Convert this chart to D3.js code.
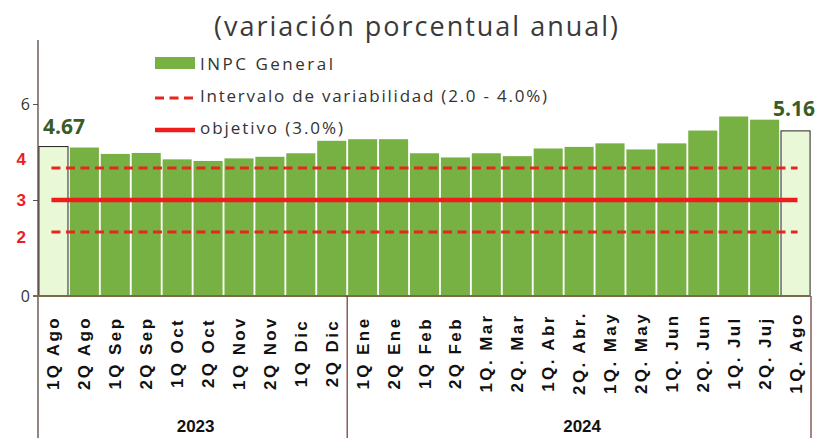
<!DOCTYPE html>
<html>
<head>
<meta charset="utf-8">
<script src="https://cdn.jsdelivr.net/npm/d3@7"></script>
<style>
  body { margin: 0; background: #fff; }
  svg { display: block; }
</style>
</head>
<body>
<div id="chart"></div>
<script>
// quincenas (categorias del eje x)
const categories = [
  '1Q Ago', '2Q Ago', '1Q Sep', '2Q Sep', '1Q Oct', '2Q Oct', '1Q Nov', '2Q Nov', '1Q Dic', '2Q Dic',
  '1Q Ene', '2Q Ene', '1Q Feb', '2Q Feb', '1Q. Mar', '2Q. Mar', '1Q. Abr', '2Q. Abr.', '1Q. May',
  '2Q. May', '1Q. Jun', '2Q. Jun', '1Q. Jul', '2Q. Juj', '1Q. Ago'
];
const years = ['2023', '2023', '2023', '2023', '2023', '2023', '2023', '2023', '2023', '2023',
  '2024', '2024', '2024', '2024', '2024', '2024', '2024', '2024', '2024', '2024', '2024', '2024',
  '2024', '2024', '2024'];
// INPC general, variacion anual (%)
const inpc = [4.67, 4.64, 4.44, 4.47, 4.27, 4.22, 4.30, 4.35, 4.46, 4.85, 4.90, 4.90, 4.46, 4.33,
  4.46, 4.37, 4.61, 4.66, 4.77, 4.58, 4.77, 5.17, 5.61, 5.51, 5.16];
const highlighted = ['1Q Ago', '1Q. Ago'];
const objetivo = [3.0];
const intervalo = [2.0, 4.0];
const yTicks = [0, 3, 6];
const redLabels = [4, 3, 2];

const width = 815;
const height = 438;

const svg = d3.select('#chart')
  .append('svg')
  .attr('width', width)
  .attr('height', height);

const x = d3.scaleBand()
  .domain(categories)
  .range([38, 811])
  .paddingInner(0.06)
  .paddingOuter(0.03);

const y = d3.scaleLinear()
  .domain([0, 8])
  .range([296, 40]);

const data = categories.map((c, i) => ({ cat: c, year: years[i], value: inpc[i] }));

// titulo
svg.append('text')
  .attr('x', 416)
  .attr('y', 36)
  .attr('text-anchor', 'middle')
  .attr('textLength', 404)
  .attr('lengthAdjust', 'spacing')
  .style('font-family', 'Open Sans, sans-serif')
  .style('font-size', '27px')
  .style('fill', '#3a3a3a')
  .text('(variación porcentual anual)');

// barras
svg.append('g')
  .selectAll('rect')
  .data(data)
  .enter()
  .append('rect')
  .attr('x', (d) => x(d.cat))
  .attr('y', (d) => y(d.value))
  .attr('width', x.bandwidth())
  .attr('height', (d) => y(0) - y(d.value))
  .style('fill', (d) => (highlighted.includes(d.cat) ? '#e9f8d6' : '#77b043'))
  .style('stroke', (d) => (highlighted.includes(d.cat) ? '#222' : 'none'))
  .style('stroke-width', 1);

// lineas de referencia
const lineX1 = x(categories[0]) + x.bandwidth() / 2 - 2;
const lineX2 = x(categories[categories.length - 1]) + x.bandwidth() / 2 + 2;

svg.append('g')
  .selectAll('line')
  .data(intervalo)
  .enter()
  .append('line')
  .attr('x1', lineX1)
  .attr('x2', lineX2)
  .attr('y1', (d) => y(d))
  .attr('y2', (d) => y(d))
  .style('stroke', '#e8261c')
  .style('stroke-width', 3)
  .style('stroke-dasharray', '9,5.5');

svg.append('g')
  .selectAll('line')
  .data(objetivo)
  .enter()
  .append('line')
  .attr('x1', lineX1)
  .attr('x2', lineX2)
  .attr('y1', (d) => y(d))
  .attr('y2', (d) => y(d))
  .style('stroke', '#ee1c1c')
  .style('stroke-width', 4.5);

// etiquetas de valor (primero y ultimo)
const first = data[0];
const last = data[data.length - 1];
svg.append('text')
  .attr('x', x(first.cat) + 4)
  .attr('y', y(first.value) - 13)
  .style('font-family', 'Open Sans, sans-serif')
  .style('font-weight', 'bold')
  .style('font-size', '21px')
  .style('fill', '#3b5b27')
  .text(first.value.toFixed(2));
svg.append('text')
  .attr('x', x(last.cat) + x.bandwidth() + 5)
  .attr('y', y(last.value) - 15)
  .attr('text-anchor', 'end')
  .style('font-family', 'Open Sans, sans-serif')
  .style('font-weight', 'bold')
  .style('font-size', '21px')
  .style('fill', '#3b5b27')
  .text(last.value.toFixed(2));

// eje y
const yAxis = svg.append('g')
  .attr('transform', 'translate(38,0)')
  .call(d3.axisLeft(y).tickValues(yTicks).tickSize(5).tickFormat((d) => (d === 3 ? '' : d)));
yAxis.select('.domain').remove();
yAxis.selectAll('line').style('stroke', '#555');
yAxis.selectAll('text')
  .style('font-family', 'Open Sans, sans-serif')
  .style('font-size', '16px')
  .style('fill', '#333');

svg.append('line')
  .attr('x1', 38)
  .attr('x2', 38)
  .attr('y1', y(8))
  .attr('y2', height)
  .style('stroke', '#4a3530')
  .style('stroke-width', 1.2);

// etiquetas rojas 4, 3, 2
svg.append('g')
  .selectAll('text')
  .data(redLabels)
  .enter()
  .append('text')
  .attr('x', 26)
  .attr('y', (d) => y(d) + (d === 4 ? -3 : d === 2 ? 11 : 6))
  .attr('text-anchor', 'end')
  .style('font-family', 'Liberation Sans, Arial, sans-serif')
  .style('font-weight', 'bold')
  .style('font-size', '17px')
  .style('fill', '#ee1c24')
  .text(String);

// linea base
svg.append('line')
  .attr('x1', 33)
  .attr('x2', x.range()[1] - 1)
  .attr('y1', y(0))
  .attr('y2', y(0))
  .style('stroke', '#7b6a45')
  .style('stroke-width', 2);

// etiquetas del eje x
svg.append('g')
  .selectAll('text')
  .data(data)
  .enter()
  .append('text')
  .attr('transform', (d) => `translate(${x(d.cat) + x.bandwidth() / 2 + 6},353) rotate(-90)`)
  .attr('text-anchor', 'middle')
  .style('font-family', 'Liberation Sans, Arial, sans-serif')
  .style('font-weight', 'bold')
  .style('font-size', '17px')
  .style('letter-spacing', '2.4px')
  .style('fill', '#111')
  .text((d) => d.cat);

// separadores de anio
const yearGroups = d3.groups(data, (d) => d.year).map(([yr, rows]) => ({
  year: yr,
  x0: x(rows[0].cat) - (x.step() - x.bandwidth()) / 2,
  x1: x(rows[rows.length - 1].cat) + x.bandwidth() + (x.step() - x.bandwidth()) / 2
}));

svg.append('g')
  .selectAll('line')
  .data(yearGroups)
  .enter()
  .append('line')
  .attr('x1', (d) => d.x1)
  .attr('x2', (d) => d.x1)
  .attr('y1', y(0))
  .attr('y2', height)
  .style('stroke', '#6b3535')
  .style('stroke-width', 1.2);

svg.append('g')
  .selectAll('text')
  .data(yearGroups)
  .enter()
  .append('text')
  .attr('x', (d) => (d.x0 + d.x1) / 2 + 3)
  .attr('y', 432)
  .attr('text-anchor', 'middle')
  .style('font-family', 'Liberation Sans, Arial, sans-serif')
  .style('font-weight', 'bold')
  .style('font-size', '17px')
  .style('fill', '#111')
  .text((d) => d.year);

// leyenda
const legend = svg.append('g').attr('transform', 'translate(155,63)');
legend.append('rect')
  .attr('x', 0).attr('y', -6).attr('width', 40).attr('height', 12)
  .style('fill', '#77b043');
legend.append('line')
  .attr('x1', 0).attr('x2', 40).attr('y1', 35).attr('y2', 35)
  .style('stroke', '#e8261c').style('stroke-width', 3).style('stroke-dasharray', '9,5.5');
legend.append('line')
  .attr('x1', 0).attr('x2', 40).attr('y1', 67).attr('y2', 67)
  .style('stroke', '#ee1c1c').style('stroke-width', 4.5);
const legendLabels = ['INPC General', 'Intervalo de variabilidad (2.0 - 4.0%)', 'objetivo (3.0%)'];
const legendWidths = [133, 347, 143];
legend.selectAll('text.lg')
  .data(legendLabels)
  .enter()
  .append('text')
  .attr('class', 'lg')
  .attr('x', 45)
  .attr('y', (d, i) => 7 + i * 32)
  .attr('textLength', (d, i) => legendWidths[i])
  .attr('lengthAdjust', 'spacing')
  .style('font-family', 'Open Sans, sans-serif')
  .style('font-size', '17px')
  .style('fill', '#333')
  .text((d) => d);
</script>
</body>
</html>
